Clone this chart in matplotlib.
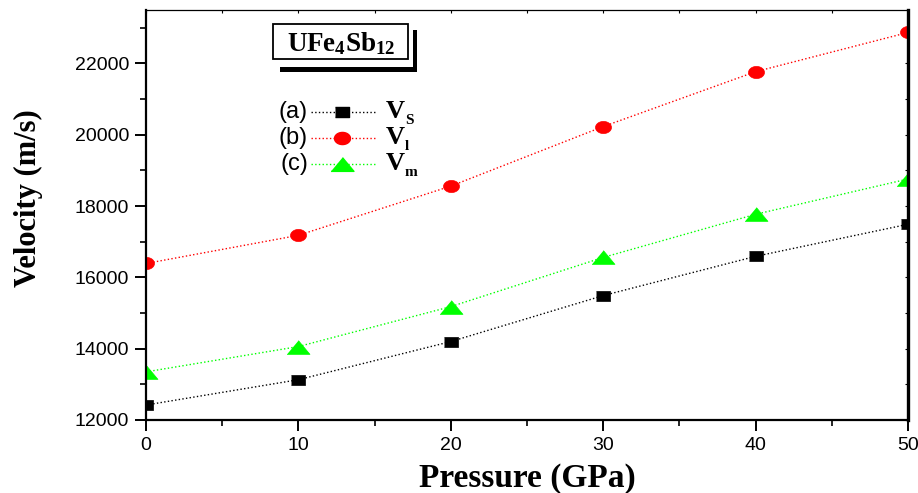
import numpy as np
import matplotlib
matplotlib.use("Agg")
import matplotlib.pyplot as plt
from matplotlib.patches import Rectangle
from matplotlib.ticker import MultipleLocator

plt.rcParams["mathtext.fontset"] = "custom"
plt.rcParams["mathtext.rm"] = "Liberation Serif"
plt.rcParams["mathtext.bf"] = "Liberation Serif:bold"

# sound velocities of UFe4Sb12 under pressure
pressure = [0, 10, 20, 30, 40, 50]
v_s = [12420, 13130, 14200, 15490, 16590, 17490]
v_l = [16390, 17180, 18560, 20230, 21770, 22870]
v_m = [13350, 14060, 15180, 16560, 17770, 18760]

# slightly wide symbols
_t = np.linspace(0, 2 * np.pi, 40)
SQUARE = [(-1, -0.72), (1, -0.72), (1, 0.72), (-1, 0.72)]
ELLIPSE = list(zip(np.cos(_t), 0.76 * np.sin(_t)))
TRIANGLE = [(-1, -0.6), (1, -0.6), (0, 0.6)]

series = [
    ("(a)", "S", v_s, "black", SQUARE, 10),
    ("(b)", "l", v_l, "red", ELLIPSE, 11.5),
    ("(c)", "m", v_m, "#00ff00", TRIANGLE, 16.5),
]

fig = plt.figure(figsize=(9.18, 4.93), dpi=100)
ax = fig.add_axes([146 / 918, 1 - 420 / 493, 762 / 918, 410 / 493])

for tag, sub, vals, c, m, ms in series:
    ax.plot(pressure, vals, color=c, ls=":", lw=1.0, marker=m, ms=ms,
            markeredgecolor=c, markerfacecolor=c, markeredgewidth=0.5)

ax.set_xlim(0, 50)
ax.set_ylim(12000, 23500)
ax.xaxis.set_major_locator(MultipleLocator(10))
ax.xaxis.set_minor_locator(MultipleLocator(5))
ax.yaxis.set_major_locator(MultipleLocator(2000))
ax.yaxis.set_minor_locator(MultipleLocator(1000))

for side, w in [("left", 1.6), ("bottom", 1.6), ("right", 2.4), ("top", 0.9)]:
    ax.spines[side].set_linewidth(w)

ax.tick_params(which="major", direction="out", length=8, width=1.4,
               labelsize=14, pad=4)
ax.tick_params(which="minor", direction="out", length=4.5, width=1.2)
for lab in ax.get_xticklabels() + ax.get_yticklabels():
    lab.set_fontfamily("Liberation Sans")

# short inward ticks on the top and right frame
sec_x = ax.secondary_xaxis("top")
sec_x.xaxis.set_major_locator(MultipleLocator(10))
sec_x.xaxis.set_minor_locator(MultipleLocator(5))
sec_x.tick_params(which="both", direction="in", length=2.5, width=0.8, labeltop=False)
sec_x.spines["top"].set_visible(False)
sec_y = ax.secondary_yaxis("right")
sec_y.yaxis.set_major_locator(MultipleLocator(2000))
sec_y.yaxis.set_minor_locator(MultipleLocator(1000))
sec_y.tick_params(which="both", direction="in", length=2.5, width=0.8, labelright=False)
sec_y.spines["right"].set_visible(False)

ax.set_xlabel("Pressure (GPa)", family="Liberation Serif", weight="bold",
              fontsize=24, labelpad=7)
ax.set_ylabel("Velocity (m/s)", family="Liberation Serif", weight="bold",
              fontsize=22)
ax.yaxis.set_label_coords(-0.135, 0.54)

# compound name in a shadowed box
def px(x, y):
    return (x - 146) / 762, (420 - y) / 410

x0, y0 = px(280, 71.5)
x1, y1 = px(416.5, 30)
ax.add_patch(Rectangle((x0, y0), x1 - x0, y1 - y0, transform=ax.transAxes,
                       facecolor="black", edgecolor="none", zorder=5, clip_on=False))
x0, y0 = px(270, 66.5)
x1, y1 = px(412.5, 21)
ax.add_patch(Rectangle((x0, y0), x1 - x0, y1 - y0, transform=ax.transAxes,
                       facecolor="white", edgecolor="none", zorder=6, clip_on=False))
x0, y0 = px(273, 59)
x1, y1 = px(408, 24)
ax.add_patch(Rectangle((x0, y0), x1 - x0, y1 - y0, transform=ax.transAxes,
                       facecolor="white", edgecolor="black", lw=1.3, zorder=7, clip_on=False))
ax.text(*px(341, 44), r"$\mathbf{UFe_4Sb_{12}}$", transform=ax.transAxes,
        ha="center", va="center", fontsize=19.5, zorder=8)

# hand-placed key: tag, sample line, symbol
for i, (tag, sub, vals, c, m, ms) in enumerate(series):
    yrow = 112 + 26 * i
    xt, yk = px(308, yrow)
    ax.text(xt, yk, tag, transform=ax.transAxes, ha="right",
            va="center", fontsize=17, family="Liberation Sans")
    ax.plot([px(311, 0)[0], px(377, 0)[0]], [yk, yk], transform=ax.transAxes,
            color=c, ls=":", lw=1.0)
    ax.plot([px(342, 0)[0]], [yk], transform=ax.transAxes, color=c,
            marker=m, ms=ms, ls="none")
    ax.text(*px(386, yrow - 1), "V", transform=ax.transAxes, ha="left",
            va="center", fontsize=19, family="Liberation Serif", weight="bold")
    ax.text(*px(405, yrow + 9), sub, transform=ax.transAxes, ha="left",
            va="center", fontsize=11, family="Liberation Serif", weight="bold")

fig.savefig("out.png", dpi=100)
